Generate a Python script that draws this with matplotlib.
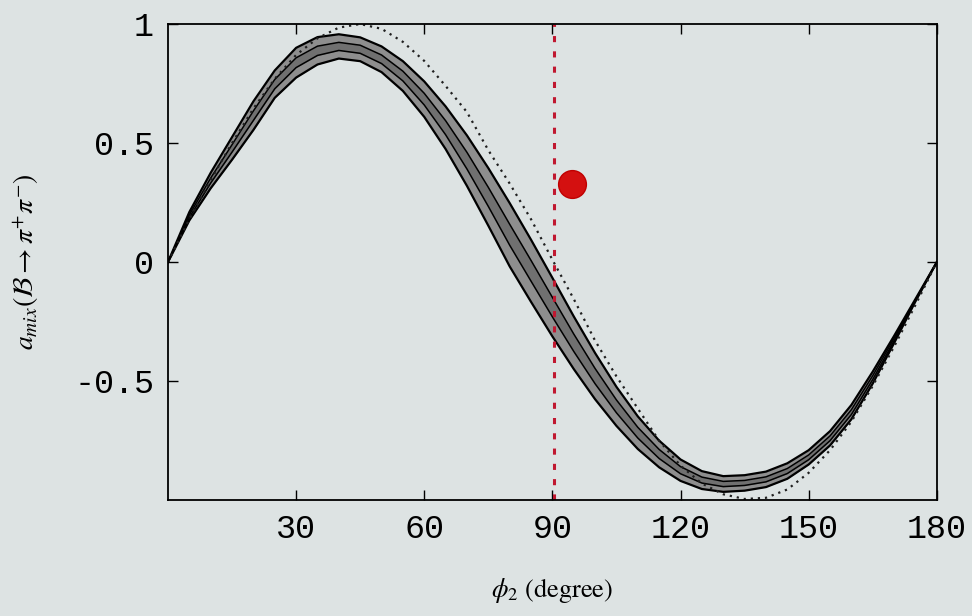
import matplotlib
matplotlib.use("Agg")
import matplotlib.pyplot as plt

# phi_2 grid (degrees)
phi = [0, 5, 10, 15, 20, 25, 30, 35, 40, 45, 50, 55, 60, 65, 70, 75, 80, 85, 90,
       95, 100, 105, 110, 115, 120, 125, 130, 135, 140, 145, 150, 155, 160, 165,
       170, 175, 180]

# band: outer upper edge, two inner lines, outer lower edge
band_up = [0, 0.21, 0.375, 0.525, 0.675, 0.805, 0.90, 0.945, 0.957, 0.944, 0.906,
           0.844, 0.759, 0.654, 0.532, 0.395, 0.248, 0.094, -0.066, -0.228,
           -0.382, -0.524, -0.648, -0.75, -0.829, -0.878, -0.899, -0.895, -0.88,
           -0.845, -0.79, -0.71, -0.60, -0.46, -0.31, -0.155, 0]
band_in1 = [0, 0.198, 0.353, 0.493, 0.635, 0.767, 0.858, 0.907, 0.923, 0.911,
            0.870, 0.802, 0.709, 0.594, 0.461, 0.314, 0.159, 0.007, -0.148,
            -0.302, -0.447, -0.579, -0.694, -0.787, -0.859, -0.903, -0.921,
            -0.917, -0.902, -0.867, -0.81, -0.73, -0.62, -0.477, -0.32, -0.158, 0]
band_in2 = [0, 0.187, 0.332, 0.462, 0.595, 0.728, 0.817, 0.868, 0.889, 0.877,
            0.834, 0.761, 0.660, 0.535, 0.391, 0.234, 0.071, -0.080, -0.230,
            -0.375, -0.511, -0.633, -0.739, -0.825, -0.889, -0.928, -0.943,
            -0.938, -0.923, -0.888, -0.83, -0.75, -0.64, -0.493, -0.33, -0.162, 0]
band_lo = [0, 0.175, 0.31, 0.43, 0.555, 0.69, 0.775, 0.83, 0.855, 0.844, 0.798,
           0.719, 0.61, 0.475, 0.32, 0.153, -0.018, -0.167, -0.312, -0.449,
           -0.576, -0.688, -0.785, -0.862, -0.919, -0.953, -0.965, -0.96, -0.945,
           -0.91, -0.85, -0.77, -0.66, -0.51, -0.34, -0.165, 0]

# dotted curve
dotted = [0, 0.18, 0.345, 0.50, 0.645, 0.77, 0.87, 0.94, 0.985, 1.0, 0.98, 0.925,
          0.845, 0.74, 0.63, 0.47, 0.33, 0.18, 0.01, -0.155, -0.33, -0.48, -0.615,
          -0.75, -0.855, -0.93, -0.975, -0.995, -0.99, -0.955, -0.885, -0.79,
          -0.67, -0.52, -0.355, -0.18, 0]

# red marks
meas_phi = 94.6
meas_a = 0.33
vline_phi = 90.4

xticks = [30, 60, 90, 120, 150, 180]
yticks = [-0.5, 0, 0.5, 1]
ylabels = ["-0.5", "0", "0.5", "1"]

plt.rcParams["mathtext.fontset"] = "stix"
bg = "#dde3e3"

fig = plt.figure(figsize=(9.72, 6.16), dpi=100, facecolor=bg)
ax = fig.add_axes([0.1728, 0.188, 0.791, 0.773], facecolor=bg)

ax.fill_between(phi, band_up, band_lo, color="#8e8e8e", lw=0)
ax.fill_between(phi, band_in1, band_in2, color="#707070", lw=0)
ax.plot(phi, band_up, color="black", lw=1.6)
ax.plot(phi, band_in1, color="black", lw=1.1)
ax.plot(phi, band_in2, color="black", lw=1.1)
ax.plot(phi, band_lo, color="black", lw=1.6)
ax.plot(phi, dotted, color="#202020", lw=1.6, linestyle=(0, (1, 2.2)))

ax.axvline(vline_phi, color="#c01830", lw=2.2, linestyle=(0, (2, 3)))
ax.plot([meas_phi], [meas_a], "o", color="#d41010", ms=20, mec="#c00000")

ax.set_xlim(0, 180)
ax.set_ylim(-1, 1)
ax.set_xticks(xticks)
ax.set_xticklabels([str(t) for t in xticks])
ax.set_yticks(yticks)
ax.set_yticklabels(ylabels)
ax.tick_params(direction="in", top=True, right=True, length=7, width=1,
               labelsize=24, pad=10)
for lab in ax.get_xticklabels() + ax.get_yticklabels():
    lab.set_family("Liberation Mono")
for s in ax.spines.values():
    s.set_linewidth(1.3)

ax.set_xlabel(r"$\phi_2$ (degree)", fontsize=19, family="STIXGeneral")
ax.xaxis.set_label_coords(0.5, -0.16)
ax.set_ylabel(r"$a_{mix}(\mathcal{B}\rightarrow\pi^{+}\pi^{-})$", fontsize=20)
ax.yaxis.set_label_coords(-0.165, 0.5)

fig.savefig("out.png", dpi=100, facecolor=bg)
